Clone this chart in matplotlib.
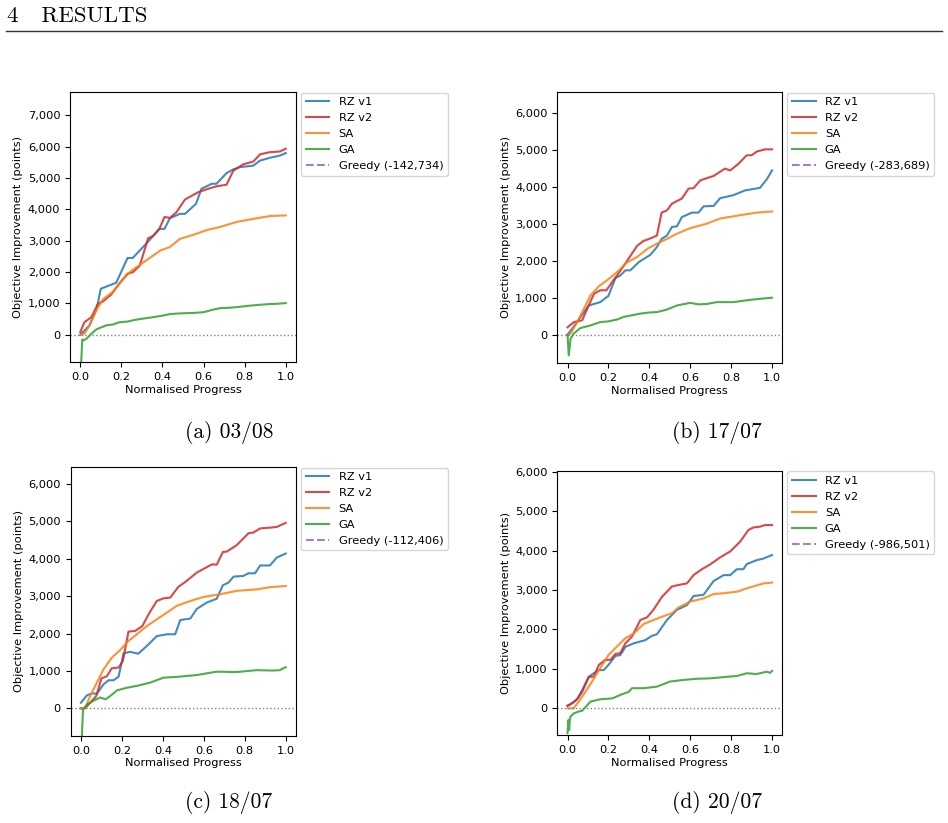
import matplotlib
matplotlib.use("Agg")
import matplotlib.pyplot as plt
from matplotlib.ticker import FuncFormatter, MultipleLocator

# ---------------- data ----------------
captions = ["(a) 03/08", "(b) 17/07", "(c) 18/07", "(d) 20/07"]
greedy_values = [-142734, -283689, -112406, -986501]
series_names = ["RZ v1", "RZ v2", "SA", "GA"]

# Panel (a) 03/08
a_rz1_x = [0, 0.045, 0.08, 0.1, 0.175, 0.23, 0.255, 0.32, 0.385, 0.41, 0.436, 0.485, 0.51, 0.563, 0.59, 0.64, 0.663, 0.712, 0.745, 0.777, 0.842, 0.875, 0.923, 0.972, 1.0]
a_rz1_y = [0, 300, 830, 1470, 1660, 2450, 2450, 2900, 3380, 3380, 3720, 3860, 3860, 4180, 4660, 4820, 4820, 5160, 5280, 5350, 5400, 5560, 5650, 5720, 5800]
a_rz2_x = [0, 0.02, 0.054, 0.086, 0.11, 0.15, 0.19, 0.23, 0.257, 0.29, 0.33, 0.354, 0.385, 0.41, 0.436, 0.468, 0.51, 0.574, 0.622, 0.663, 0.712, 0.745, 0.793, 0.842, 0.875, 0.923, 0.972, 1.0]
a_rz2_y = [85, 400, 560, 990, 1060, 1280, 1630, 1950, 2000, 2210, 3080, 3150, 3380, 3760, 3730, 3910, 4320, 4550, 4660, 4740, 4790, 5240, 5440, 5530, 5760, 5830, 5850, 5940]
a_sa_x = [0, 0.02, 0.045, 0.078, 0.11, 0.16, 0.21, 0.25, 0.305, 0.39, 0.436, 0.485, 0.55, 0.615, 0.68, 0.76, 0.842, 0.923, 1.0]
a_sa_y = [0, 30, 300, 780, 1130, 1380, 1790, 2050, 2300, 2690, 2800, 3060, 3190, 3340, 3440, 3600, 3700, 3790, 3810]
a_ga_x = [0, 0.005, 0.01, 0.013, 0.03, 0.054, 0.078, 0.1, 0.127, 0.16, 0.19, 0.23, 0.27, 0.31, 0.354, 0.4, 0.436, 0.48, 0.52, 0.56, 0.6, 0.64, 0.68, 0.72, 0.76, 0.8, 0.842, 0.88, 0.923, 0.96, 1.0]
a_ga_y = [-2000, -800, -150, -180, -130, 30, 170, 230, 300, 330, 400, 420, 480, 520, 560, 610, 660, 680, 690, 700, 720, 790, 850, 860, 880, 910, 940, 960, 980, 990, 1010]

# Panel (b) 17/07
b_rz1_x = [0, 0.047, 0.08, 0.104, 0.16, 0.2, 0.234, 0.258, 0.283, 0.307, 0.348, 0.405, 0.437, 0.46, 0.486, 0.51, 0.535, 0.559, 0.608, 0.64, 0.665, 0.714, 0.746, 0.81, 0.868, 0.941, 0.974, 1.0]
b_rz1_y = [0, 340, 610, 790, 880, 1050, 1530, 1600, 1740, 1740, 1960, 2160, 2370, 2590, 2680, 2910, 2930, 3180, 3300, 3300, 3470, 3480, 3690, 3770, 3900, 3970, 4200, 4440]
b_rz2_x = [0, 0.031, 0.072, 0.096, 0.13, 0.16, 0.19, 0.218, 0.26, 0.3, 0.34, 0.37, 0.413, 0.437, 0.46, 0.486, 0.51, 0.559, 0.592, 0.616, 0.649, 0.68, 0.714, 0.77, 0.795, 0.836, 0.876, 0.9, 0.925, 0.966, 1.0]
b_rz2_y = [200, 340, 390, 700, 1110, 1200, 1200, 1420, 1740, 2070, 2400, 2530, 2620, 2680, 3300, 3360, 3540, 3680, 3950, 3960, 4170, 4230, 4290, 4490, 4440, 4620, 4850, 4850, 4950, 5010, 5010]
b_sa_x = [0, 0.015, 0.047, 0.08, 0.112, 0.153, 0.193, 0.242, 0.29, 0.34, 0.39, 0.437, 0.486, 0.535, 0.6, 0.68, 0.746, 0.844, 0.925, 1.0]
b_sa_y = [0, 30, 340, 700, 1060, 1310, 1470, 1690, 1950, 2100, 2320, 2460, 2590, 2730, 2880, 3000, 3140, 3230, 3300, 3330]
b_ga_x = [0, 0.006, 0.015, 0.03, 0.063, 0.112, 0.16, 0.2, 0.242, 0.274, 0.31, 0.356, 0.4, 0.437, 0.486, 0.535, 0.6, 0.64, 0.68, 0.73, 0.81, 0.876, 0.94, 1.0]
b_ga_y = [0, -560, -110, 30, 180, 250, 340, 360, 410, 480, 520, 570, 600, 610, 680, 790, 860, 820, 830, 880, 880, 930, 970, 1000]

# Panel (c) 18/07
c_rz1_x = [0, 0.03, 0.054, 0.078, 0.11, 0.135, 0.16, 0.184, 0.208, 0.24, 0.28, 0.33, 0.37, 0.42, 0.46, 0.485, 0.534, 0.566, 0.615, 0.663, 0.693, 0.72, 0.745, 0.793, 0.818, 0.85, 0.875, 0.923, 0.956, 1.0]
c_rz1_y = [150, 350, 400, 390, 640, 750, 750, 850, 1470, 1510, 1460, 1710, 1930, 1980, 1980, 2360, 2400, 2660, 2830, 2930, 3290, 3360, 3520, 3540, 3610, 3610, 3820, 3820, 4030, 4140]
c_rz2_x = [0, 0.02, 0.045, 0.075, 0.1, 0.127, 0.15, 0.184, 0.205, 0.232, 0.265, 0.3, 0.33, 0.37, 0.403, 0.436, 0.476, 0.51, 0.566, 0.64, 0.663, 0.693, 0.712, 0.76, 0.818, 0.842, 0.875, 0.923, 0.956, 1.0]
c_rz2_y = [0, 0, 150, 330, 800, 860, 1070, 1090, 1270, 2050, 2070, 2200, 2510, 2870, 2940, 2960, 3250, 3380, 3630, 3850, 3840, 4180, 4190, 4360, 4680, 4700, 4810, 4830, 4850, 4960]
c_sa_x = [0, 0.02, 0.045, 0.078, 0.11, 0.15, 0.19, 0.232, 0.273, 0.322, 0.37, 0.42, 0.468, 0.534, 0.6, 0.68, 0.76, 0.858, 0.923, 1.0]
c_sa_y = [0, 0, 330, 690, 1040, 1350, 1550, 1800, 1980, 2200, 2380, 2560, 2740, 2870, 2980, 3050, 3140, 3180, 3240, 3270]
c_ga_x = [0, 0.005, 0.01, 0.03, 0.06, 0.094, 0.12, 0.143, 0.176, 0.224, 0.273, 0.34, 0.403, 0.468, 0.566, 0.63, 0.663, 0.76, 0.858, 0.94, 0.97, 1.0]
c_ga_y = [-2000, -700, -30, 100, 200, 290, 240, 330, 480, 550, 600, 690, 820, 840, 890, 950, 980, 970, 1020, 1010, 1020, 1100]

# Panel (d) 20/07
d_rz1_x = [0, 0.023, 0.047, 0.072, 0.104, 0.128, 0.153, 0.177, 0.2, 0.234, 0.258, 0.283, 0.324, 0.38, 0.413, 0.437, 0.486, 0.535, 0.584, 0.616, 0.665, 0.714, 0.763, 0.795, 0.828, 0.86, 0.876, 0.925, 0.958, 1.0]
d_rz1_y = [70, 130, 230, 470, 800, 890, 970, 970, 1100, 1330, 1350, 1560, 1650, 1730, 1840, 1880, 2240, 2500, 2620, 2850, 2880, 3230, 3380, 3380, 3530, 3530, 3660, 3760, 3800, 3890]
d_rz2_x = [0, 0.023, 0.047, 0.072, 0.104, 0.128, 0.153, 0.185, 0.21, 0.234, 0.258, 0.283, 0.315, 0.356, 0.389, 0.42, 0.462, 0.51, 0.543, 0.584, 0.616, 0.657, 0.697, 0.746, 0.795, 0.844, 0.885, 0.909, 0.941, 0.966, 1.0]
d_rz2_y = [60, 130, 230, 420, 800, 800, 1100, 1230, 1230, 1380, 1400, 1650, 1820, 2240, 2310, 2500, 2830, 3090, 3130, 3170, 3380, 3530, 3650, 3830, 3980, 4230, 4530, 4590, 4610, 4650, 4650]
d_sa_x = [0, 0.03, 0.055, 0.088, 0.12, 0.16, 0.2, 0.242, 0.283, 0.324, 0.372, 0.42, 0.47, 0.51, 0.543, 0.6, 0.665, 0.714, 0.763, 0.828, 0.893, 0.958, 1.0]
d_sa_y = [0, 0, 170, 420, 680, 1020, 1350, 1570, 1780, 1900, 2140, 2240, 2340, 2410, 2560, 2710, 2790, 2900, 2920, 2960, 3070, 3170, 3190]
d_ga_x = [0, 0.004, 0.008, 0.012, 0.015, 0.03, 0.05, 0.072, 0.088, 0.112, 0.16, 0.218, 0.258, 0.3, 0.315, 0.372, 0.437, 0.502, 0.567, 0.632, 0.697, 0.78, 0.828, 0.876, 0.925, 0.974, 0.99, 1.0]
d_ga_y = [-630, -300, -550, -250, -210, -130, -90, -60, 30, 170, 230, 250, 340, 420, 510, 510, 550, 680, 720, 750, 760, 800, 820, 890, 870, 930, 900, 950]

panels = [
    [(a_rz1_x, a_rz1_y), (a_rz2_x, a_rz2_y), (a_sa_x, a_sa_y), (a_ga_x, a_ga_y)],
    [(b_rz1_x, b_rz1_y), (b_rz2_x, b_rz2_y), (b_sa_x, b_sa_y), (b_ga_x, b_ga_y)],
    [(c_rz1_x, c_rz1_y), (c_rz2_x, c_rz2_y), (c_sa_x, c_sa_y), (c_ga_x, c_ga_y)],
    [(d_rz1_x, d_rz1_y), (d_rz2_x, d_rz2_y), (d_sa_x, d_sa_y), (d_ga_x, d_ga_y)],
]
y_limits = [(-870, 7750), (-765, 6560), (-740, 6460), (-685, 6030)]

# ---------------- layout ----------------
colors = ["#1f77b4", "#d62728", "#ff7f0e", "#2ca02c"]
W, H = 948, 823
fig = plt.figure(figsize=(W / 100, H / 100), dpi=100)

# axes rectangles in pixels: left, top, right, bottom
rects_px = [(70, 92, 296, 362), (557.3, 92, 782.3, 363),
            (70.7, 466.7, 296, 736), (557.3, 470.7, 782.3, 735.3)]
caption_px = [(229, 432), (717, 432), (229, 802), (717, 802)]

for i, (l, t, r, b) in enumerate(rects_px):
    ax = fig.add_axes([l / W, 1 - b / H, (r - l) / W, (b - t) / H])
    for (xs, ys), name, c in zip(panels[i], series_names, colors):
        ax.plot(xs, ys, color=c, lw=1.5, alpha=0.85, label=name)
    ax.axhline(greedy_values[i], color="#9467bd", ls="--", lw=1.5, alpha=0.85,
               label=f"Greedy ({greedy_values[i]:,})")
    ax.axhline(0, color="gray", ls=":", lw=1)
    ax.set_xlim(-0.05, 1.05)
    ax.set_ylim(*y_limits[i])
    ax.yaxis.set_major_locator(MultipleLocator(1000))
    ax.yaxis.set_major_formatter(FuncFormatter(lambda v, p: f"{v:,.0f}"))
    ax.set_xticks([0, 0.2, 0.4, 0.6, 0.8, 1.0])
    ax.tick_params(labelsize=8.2, length=3.5, width=0.8)
    ax.set_xlabel("Normalised Progress", fontsize=8.2, labelpad=2)
    ax.set_ylabel("Objective Improvement (points)", fontsize=8.2, labelpad=3)
    ax.legend(loc="upper left", bbox_to_anchor=(1.022, 0.997), borderaxespad=0,
              fontsize=8.2, handlelength=2.1, labelspacing=0.52, framealpha=0.8)
    cx, cy = caption_px[i]
    fig.text(cx / W, 1 - cy / H, captions[i], ha="center", va="center",
             fontsize=15.5, family="cmr10")

# header
fig.text(7 / W, 1 - 16 / H, "4   RESULTS", ha="left", va="center",
         fontsize=16.5, family="cmr10")
fig.add_artist(plt.Line2D([6 / W, 942 / W], [1 - 30.5 / H, 1 - 30.5 / H],
                          color="#333333", lw=1.0, transform=fig.transFigure))

fig.savefig("out.png", dpi=100)
